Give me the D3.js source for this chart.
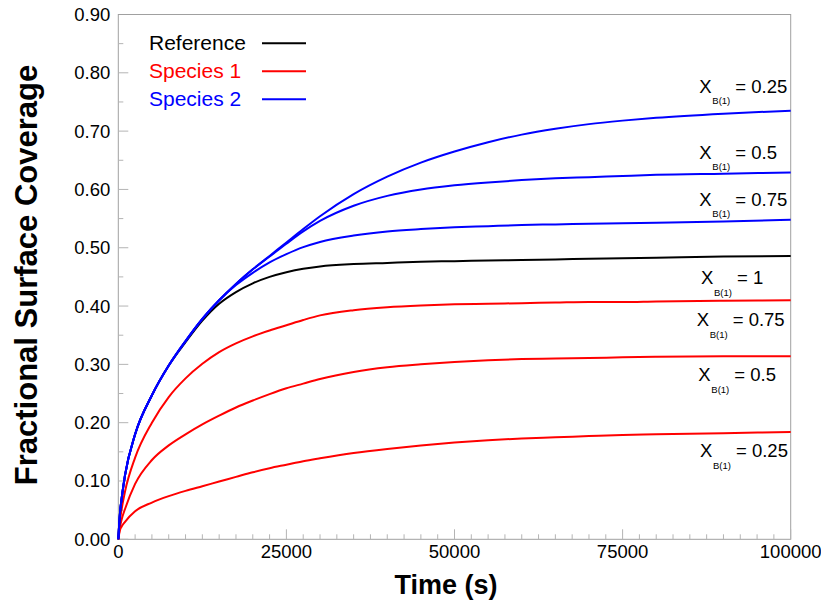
<!DOCTYPE html>
<html><head><meta charset="utf-8">
<script src="https://cdn.jsdelivr.net/npm/d3@7"></script>
<style>body{margin:0;background:#fff}svg{display:block}text{font-family:"Liberation Sans",Arial,sans-serif}</style>
</head><body><svg id="c" width="821" height="610"></svg>
<script>
const times = [0,250,500,1000,2500,5000,7500,10000,12500,15000,17500,20000,22500,25000,27500,30000,35000,40000,45000,50000,55000,60000,65000,70000,75000,80000,90000,100000];
const reference = [0,0.045,0.07,0.11,0.18,0.247,0.298,0.338,0.375,0.404,0.424,0.439,0.45,0.458,0.464,0.468,0.472,0.474,0.476,0.477,0.478,0.479,0.480,0.481,0.482,0.483,0.485,0.486];
const species2_025 = [0,0.045,0.07,0.11,0.18,0.247,0.298,0.34,0.378,0.41,0.438,0.463,0.486,0.509,0.532,0.554,0.592,0.622,0.646,0.665,0.681,0.694,0.704,0.712,0.718,0.723,0.730,0.735];
const species2_050 = [0,0.045,0.07,0.11,0.18,0.247,0.298,0.34,0.378,0.41,0.438,0.463,0.485,0.507,0.528,0.546,0.572,0.589,0.6,0.607,0.612,0.616,0.619,0.621,0.623,0.625,0.627,0.629];
const species2_075 = [0,0.045,0.07,0.11,0.18,0.247,0.298,0.34,0.378,0.41,0.436,0.457,0.475,0.489,0.501,0.51,0.521,0.528,0.532,0.535,0.537,0.539,0.540,0.541,0.542,0.543,0.545,0.548];
const species1_075 = [0,0.032,0.052,0.082,0.14,0.2,0.244,0.276,0.301,0.321,0.336,0.348,0.358,0.367,0.376,0.384,0.393,0.398,0.401,0.403,0.404,0.405,0.406,0.407,0.407,0.408,0.409,0.41];
const species1_050 = [0,0.021,0.034,0.052,0.095,0.136,0.161,0.18,0.197,0.212,0.226,0.238,0.249,0.259,0.267,0.275,0.287,0.295,0.300,0.304,0.307,0.309,0.310,0.311,0.312,0.313,0.314,0.314];
const species1_025 = [0,0.016,0.022,0.03,0.048,0.063,0.074,0.083,0.091,0.099,0.107,0.115,0.122,0.128,0.134,0.139,0.148,0.155,0.161,0.166,0.17,0.173,0.175,0.177,0.179,0.18,0.182,0.184];
const xTicks = [0,25000,50000,75000,100000];
const yTicks = [0,0.1,0.2,0.3,0.4,0.5,0.6,0.7,0.8,0.9];
const legendLabels = ["Reference","Species 1","Species 2"];
const legendColors = ["#000000","#ff0000","#0000ff"];
const seriesList = [
  {values: species1_025, color:"#ff0000", label:"0.25", off:25},
  {values: species1_050, color:"#ff0000", label:"0.5", off:25},
  {values: species1_075, color:"#ff0000", label:"0.75", off:26},
  {values: reference, color:"#000000", label:"1", off:28},
  {values: species2_075, color:"#0000ff", label:"0.75", off:-14},
  {values: species2_050, color:"#0000ff", label:"0.5", off:-14},
  {values: species2_025, color:"#0000ff", label:"0.25", off:-18}
];

const svg = d3.select("#c");
const L=118.3, R=790.7, T=14.5, B=539.3;
const x = d3.scaleLinear().domain([0,100000]).range([L,R]);
const y = d3.scaleLinear().domain([0,0.9]).range([B,T]);
const axisCol = "#a0a0a0", tickCol="#b4b4b4";

svg.append("rect").attr("x",L).attr("y",T).attr("width",R-L).attr("height",B-T)
  .attr("fill","none").attr("stroke",axisCol).attr("stroke-width",1);

const xMinor = d3.range(0,100001,2500);
svg.append("g").selectAll("line").data(xMinor).join("line")
  .attr("x1",d=>x(d)).attr("x2",d=>x(d)).attr("y1",B).attr("y2",d=>B-(d%25000===0?10:5))
  .attr("stroke",tickCol).attr("stroke-width",1);
const yMinor = d3.range(0,18).map(i=>i*0.05);
svg.append("g").selectAll("line").data(yMinor).join("line")
  .attr("y1",d=>y(d)).attr("y2",d=>y(d)).attr("x1",L).attr("x2",(d,i)=>L+(i%2===0?10:5))
  .attr("stroke",tickCol).attr("stroke-width",1);

svg.append("g").selectAll("text").data(yTicks).join("text")
  .attr("x",L-8).attr("y",d=>y(d)).attr("dy","0.35em").attr("text-anchor","end")
  .attr("font-size",18.5).attr("fill","#000").text(d=>d3.format(".2f")(d));
svg.append("g").selectAll("text").data(xTicks).join("text")
  .attr("x",d=>x(d)).attr("y",B+19).attr("text-anchor","middle")
  .attr("font-size",18.5).attr("fill","#000").text(d=>d);

svg.append("text").attr("x",446).attr("y",594).attr("text-anchor","middle")
  .attr("font-size",27).attr("font-weight","bold").text("Time (s)");
svg.append("text").attr("transform","translate(37,275) rotate(-90)").attr("text-anchor","middle")
  .attr("font-size",31).attr("font-weight","bold").text("Fractional Surface Coverage");

const line = d3.line().x((d,i)=>x(times[i])).y(d=>y(d)).curve(d3.curveMonotoneX);
svg.append("g").selectAll("path").data(seriesList).join("path")
  .attr("d",d=>line(d.values)).attr("fill","none").attr("stroke",d=>d.color).attr("stroke-width",2);

const lg = svg.append("g");
legendLabels.forEach((lab,i)=>{
  const yy = 50 + i*28;
  lg.append("text").attr("x",149).attr("y",yy).attr("font-size",21).attr("fill",legendColors[i]).text(lab);
  lg.append("line").attr("x1",262).attr("x2",306).attr("y1",yy-6.7).attr("y2",yy-6.7)
    .attr("stroke",legendColors[i]).attr("stroke-width",2);
});

const ann = svg.append("g");
const lx = [700,698.3,696.7,701,699.3,699.3,699.3];
seriesList.forEach((s,i)=>{
  const base = y(s.values[s.values.length-1]) + s.off;
  const x0 = lx[i];
  ann.append("text").attr("x",x0).attr("y",base).attr("font-size",18.5).text("X");
  ann.append("text").attr("x",x0+13).attr("y",base+11.7).attr("font-size",9.5).text("B(1)");
  ann.append("text").attr("x",x0+36).attr("y",base).attr("font-size",18.5).text("= "+s.label);
});
</script></body></html>
